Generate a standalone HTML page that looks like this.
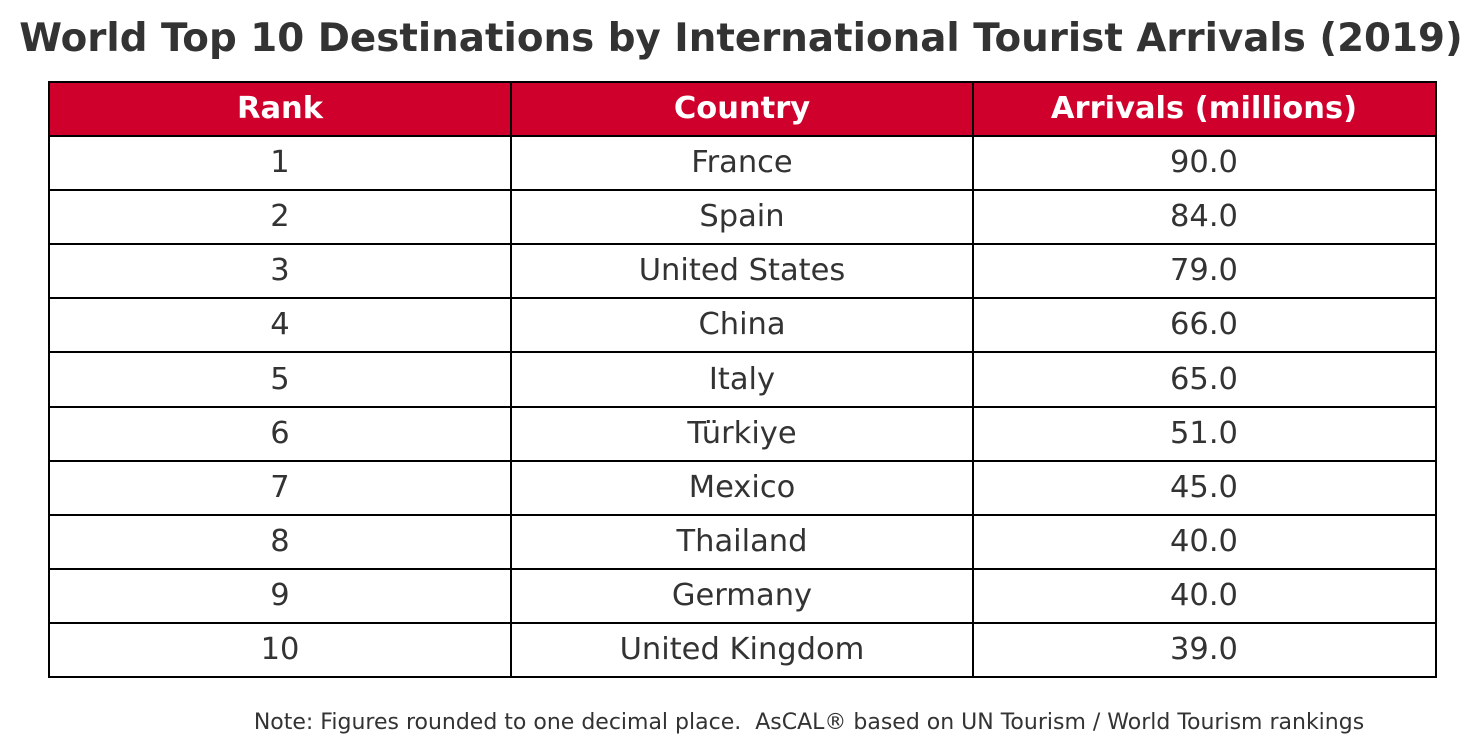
<!DOCTYPE html>
<html><head><meta charset="utf-8"><style>
html,body{margin:0;padding:0;background:#fff;}
svg{display:block;}
text{font-family:"DejaVu Sans","Liberation Sans",sans-serif;fill:#333;}
</style></head><body>
<svg width="1484" height="752" viewBox="0 0 1484 752" xmlns="http://www.w3.org/2000/svg">
<text x="741" y="51" text-anchor="middle" font-size="38.8" font-weight="bold">World Top 10 Destinations by International Tourist Arrivals (2019)</text>
<rect x="49" y="82" width="1387" height="54" fill="#d0002d"/>
<g stroke="#000" stroke-width="2" fill="none">
<rect x="49" y="82" width="1387" height="595"/>
<line x1="511" y1="82" x2="511" y2="677"/>
<line x1="973" y1="82" x2="973" y2="677"/>
<line x1="49" y1="136" x2="1436" y2="136"/>
<line x1="49" y1="190" x2="1436" y2="190"/>
<line x1="49" y1="244" x2="1436" y2="244"/>
<line x1="49" y1="298" x2="1436" y2="298"/>
<line x1="49" y1="352" x2="1436" y2="352"/>
<line x1="49" y1="407" x2="1436" y2="407"/>
<line x1="49" y1="461" x2="1436" y2="461"/>
<line x1="49" y1="515" x2="1436" y2="515"/>
<line x1="49" y1="569" x2="1436" y2="569"/>
<line x1="49" y1="623" x2="1436" y2="623"/>
</g>
<g font-size="30.5" font-weight="bold" text-anchor="middle">
<text x="280" y="118" style="fill:#fff">Rank</text>
<text x="742" y="118" style="fill:#fff">Country</text>
<text x="1204" y="118" style="fill:#fff">Arrivals (millions)</text>
</g>
<g font-size="30.5" text-anchor="middle">
<text x="280" y="172">1</text><text x="742" y="172">France</text><text x="1204" y="172">90.0</text>
<text x="280" y="226">2</text><text x="742" y="226">Spain</text><text x="1204" y="226">84.0</text>
<text x="280" y="280">3</text><text x="742" y="280">United States</text><text x="1204" y="280">79.0</text>
<text x="280" y="334">4</text><text x="742" y="334">China</text><text x="1204" y="334">66.0</text>
<text x="280" y="389">5</text><text x="742" y="389">Italy</text><text x="1204" y="389">65.0</text>
<text x="280" y="443">6</text><text x="742" y="443">Türkiye</text><text x="1204" y="443">51.0</text>
<text x="280" y="497">7</text><text x="742" y="497">Mexico</text><text x="1204" y="497">45.0</text>
<text x="280" y="551">8</text><text x="742" y="551">Thailand</text><text x="1204" y="551">40.0</text>
<text x="280" y="605">9</text><text x="742" y="605">Germany</text><text x="1204" y="605">40.0</text>
<text x="280" y="659">10</text><text x="742" y="659">United Kingdom</text><text x="1204" y="659">39.0</text>
</g>
<text x="809" y="729" text-anchor="middle" font-size="22" style="white-space:pre" xml:space="preserve">Note: Figures rounded to one decimal place.  AsCAL® based on UN Tourism / World Tourism rankings</text>
</svg>
</body></html>
